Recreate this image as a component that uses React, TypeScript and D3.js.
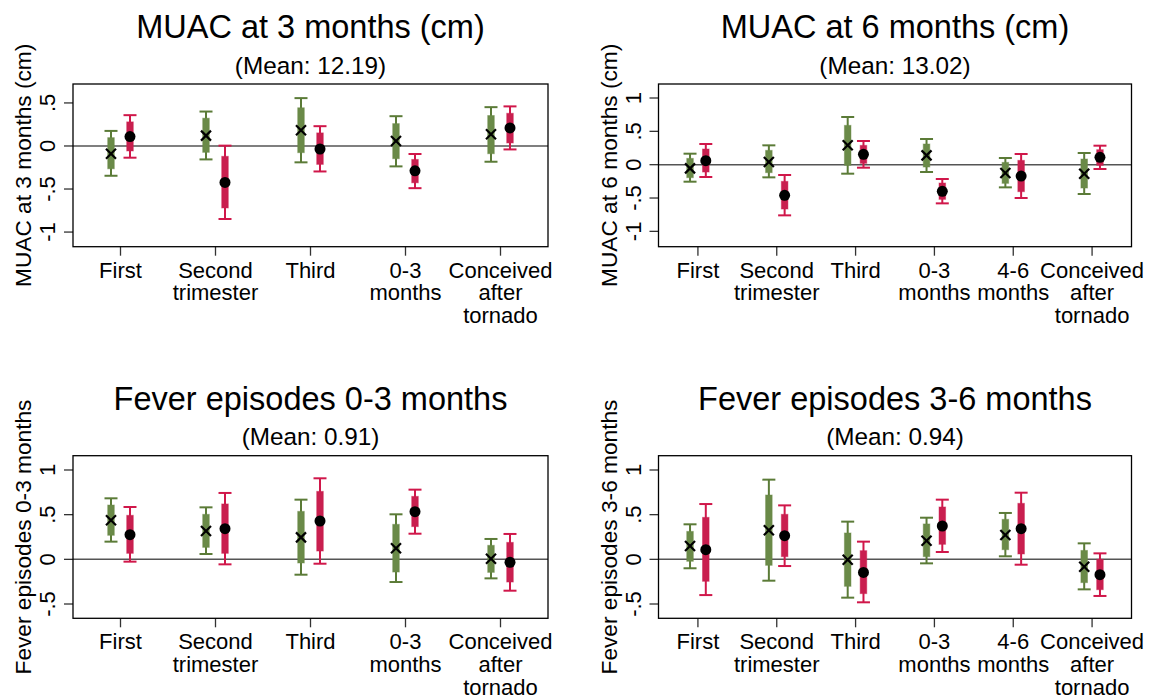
import React from "react";
import * as d3 from "d3";

// categories (line breaks inside labels)
const catsFive = ["First", "Second\ntrimester", "Third", "0-3\nmonths", "Conceived\nafter\ntornado"];
const catsSix = ["First", "Second\ntrimester", "Third", "0-3\nmonths", "4-6\nmonths", "Conceived\nafter\ntornado"];

// each row: [estimate, lo95, lo90, hi90, hi95]
const muac3Green = [
  [-0.09, -0.346, -0.265, 0.097, 0.175],
  [0.12, -0.156, -0.074, 0.323, 0.4],
  [0.183, -0.19, -0.078, 0.444, 0.556],
  [0.058, -0.237, -0.148, 0.26, 0.346],
  [0.136, -0.183, -0.09, 0.354, 0.451],
];
const muac3Red = [
  [0.109, -0.136, -0.058, 0.28, 0.358],
  [-0.424, -0.848, -0.72, -0.12, 0.004],
  [-0.035, -0.296, -0.214, 0.152, 0.23],
  [-0.288, -0.49, -0.428, -0.156, -0.093],
  [0.21, -0.04, 0.035, 0.38, 0.46],
];

const muac6Green = [
  [-0.055, -0.255, -0.195, 0.095, 0.165],
  [0.04, -0.19, -0.12, 0.215, 0.29],
  [0.29, -0.135, -0.01, 0.59, 0.715],
  [0.14, -0.11, -0.035, 0.31, 0.385],
  [-0.125, -0.34, -0.28, 0.035, 0.1],
  [-0.135, -0.44, -0.35, 0.085, 0.175],
];
const muac6Red = [
  [0.06, -0.185, -0.11, 0.235, 0.31],
  [-0.46, -0.76, -0.665, -0.25, -0.155],
  [0.155, -0.045, 0.02, 0.29, 0.355],
  [-0.4, -0.58, -0.52, -0.275, -0.215],
  [-0.17, -0.5, -0.405, 0.065, 0.16],
  [0.11, -0.065, -0.01, 0.225, 0.285],
];

const fever03Green = [
  [0.437, 0.198, 0.269, 0.608, 0.683],
  [0.317, 0.06, 0.134, 0.504, 0.582],
  [0.246, -0.172, -0.041, 0.537, 0.668],
  [0.123, -0.254, -0.142, 0.392, 0.504],
  [0.007, -0.213, -0.146, 0.157, 0.228],
];
const fever03Red = [
  [0.276, -0.026, 0.067, 0.493, 0.586],
  [0.343, -0.056, 0.067, 0.62, 0.743],
  [0.429, -0.049, 0.093, 0.761, 0.907],
  [0.534, 0.287, 0.366, 0.705, 0.78],
  [-0.034, -0.351, -0.254, 0.19, 0.284],
];

const fever36Green = [
  [0.149, -0.1, -0.022, 0.313, 0.392],
  [0.325, -0.239, -0.067, 0.72, 0.892],
  [-0.004, -0.429, -0.302, 0.295, 0.422],
  [0.209, -0.045, 0.03, 0.396, 0.466],
  [0.272, 0.034, 0.108, 0.448, 0.519],
  [-0.082, -0.336, -0.261, 0.1, 0.179],
];
const fever36Red = [
  [0.108, -0.4, -0.246, 0.47, 0.619],
  [0.265, -0.075, 0.03, 0.504, 0.604],
  [-0.146, -0.481, -0.384, 0.097, 0.198],
  [0.373, 0.082, 0.168, 0.586, 0.668],
  [0.343, -0.06, 0.06, 0.627, 0.746],
  [-0.172, -0.41, -0.34, 0.0, 0.067],
];

const muac3Ticks = [-1, -0.5, 0, 0.5];
const muac6Ticks = [-1, -0.5, 0, 0.5, 1];
const feverTicks = [-0.5, 0, 0.5, 1];

const FONT = "'Liberation Sans', Arial, Helvetica, sans-serif";
const GREEN = "#5b7b37";
const GREEN_BAR = "#6a8a48";
const RED = "#d0174a";
const RED_BAR = "#c91f4f";

const fmt = (v: number) => (v === 0 ? "0" : String(v).replace("0.", "."));

function Series({ rows, cats, x, y, off, color, barColor, marker }: any) {
  return (
    <g>
      {rows.map((r: number[], i: number) => {
        const cx = (x(cats[i]) as number) + off;
        const [est, lo95, lo90, hi90, hi95] = r;
        return (
          <g key={i}>
            <line x1={cx} x2={cx} y1={y(lo95)} y2={y(hi95)} stroke={color} strokeWidth={2} />
            <line x1={cx - 6.5} x2={cx + 6.5} y1={y(lo95)} y2={y(lo95)} stroke={color} strokeWidth={2} />
            <line x1={cx - 6.5} x2={cx + 6.5} y1={y(hi95)} y2={y(hi95)} stroke={color} strokeWidth={2} />
            <rect
              x={cx - 3.3}
              width={6.6}
              y={y(hi90)}
              height={y(lo90) - y(hi90)}
              fill={barColor}
              stroke={barColor}
              strokeOpacity={0.45}
              strokeWidth={1}
            />
            {marker === "x" ? (
              <g stroke="#000" strokeWidth={2.2}>
                <line x1={cx - 5} x2={cx + 5} y1={y(est) - 5} y2={y(est) + 5} />
                <line x1={cx - 5} x2={cx + 5} y1={y(est) + 5} y2={y(est) - 5} />
              </g>
            ) : (
              <circle cx={cx} cy={y(est)} r={5.5} fill="#000" />
            )}
          </g>
        );
      })}
    </g>
  );
}

function Panel({ x0, x1, y0, y1, title, subtitle, ytitle, cats, green, red, domain, ticks }: any) {
  const x = d3.scalePoint<string>().domain(cats).range([x0, x1]).padding(0.5);
  const y = d3.scaleLinear().domain(domain).range([y1, y0]);
  const off = x.step() * 0.1;
  const cx = (x0 + x1) / 2;
  return (
    <g fontFamily={FONT} fill="#000">
      <text x={cx} y={y0 - 46} textAnchor="middle" fontSize={32.5}>{title}</text>
      <text x={cx} y={y0 - 10.5} textAnchor="middle" fontSize={24.3}>{subtitle}</text>
      <text
        transform={`translate(${x0 - 42},${(y0 + y1) / 2}) rotate(-90)`}
        textAnchor="middle"
        fontSize={22.7}
      >
        {ytitle}
      </text>
      {ticks.map((t: number) => (
        <g key={t}>
          <line x1={x0 - 9} x2={x0} y1={y(t)} y2={y(t)} stroke="#333" strokeWidth={1.3} />
          <text transform={`translate(${x0 - 18},${y(t)}) rotate(-90)`} textAnchor="middle" fontSize={22}>
            {fmt(t)}
          </text>
        </g>
      ))}
      {cats.map((c: string) => (
        <g key={c}>
          <line x1={x(c)} x2={x(c)} y1={y1} y2={y1 + 9} stroke="#333" strokeWidth={1.3} />
          <text x={x(c)} y={y1 + 31} textAnchor="middle" fontSize={22}>
            {c.split("\n").map((s, k) => (
              <tspan key={k} x={x(c)} dy={k === 0 ? 0 : 22.7}>{s}</tspan>
            ))}
          </text>
        </g>
      ))}
      <line x1={x0} x2={x1} y1={y(0)} y2={y(0)} stroke="#555" strokeWidth={1.5} />
      <Series rows={green} cats={cats} x={x} y={y} off={-off} color={GREEN} barColor={GREEN_BAR} marker="x" />
      <Series rows={red} cats={cats} x={x} y={y} off={off} color={RED} barColor={RED_BAR} marker="o" />
      <rect x={x0} y={y0} width={x1 - x0} height={y1 - y0} fill="none" stroke="#000" strokeWidth={1.3} />
    </g>
  );
}

export default function App() {
  return (
    <div style={{ position: "absolute", left: 0, top: 0 }}>
      <svg width={1153} height={700} style={{ display: "block", background: "#fff" }}>
        <Panel x0={73} x1={548} y0={84} y1={246.7} title="MUAC at 3 months (cm)" subtitle="(Mean: 12.19)"
          ytitle="MUAC at 3 months (cm)" cats={catsFive} green={muac3Green} red={muac3Red}
          domain={[-1.17, 0.72]} ticks={muac3Ticks} />
        <Panel x0={658.5} x1={1131.5} y0={84} y1={246.7} title="MUAC at 6 months (cm)" subtitle="(Mean: 13.02)"
          ytitle="MUAC at 6 months (cm)" cats={catsSix} green={muac6Green} red={muac6Red}
          domain={[-1.23, 1.21]} ticks={muac6Ticks} />
        <Panel x0={73} x1={548} y0={455.7} y1={618.3} title="Fever episodes 0-3 months" subtitle="(Mean: 0.91)"
          ytitle="Fever episodes 0-3 months" cats={catsFive} green={fever03Green} red={fever03Red}
          domain={[-0.66, 1.16]} ticks={feverTicks} />
        <Panel x0={658.5} x1={1131.5} y0={455.7} y1={618.3} title="Fever episodes 3-6 months" subtitle="(Mean: 0.94)"
          ytitle="Fever episodes 3-6 months" cats={catsSix} green={fever36Green} red={fever36Red}
          domain={[-0.66, 1.16]} ticks={feverTicks} />
      </svg>
    </div>
  );
}
